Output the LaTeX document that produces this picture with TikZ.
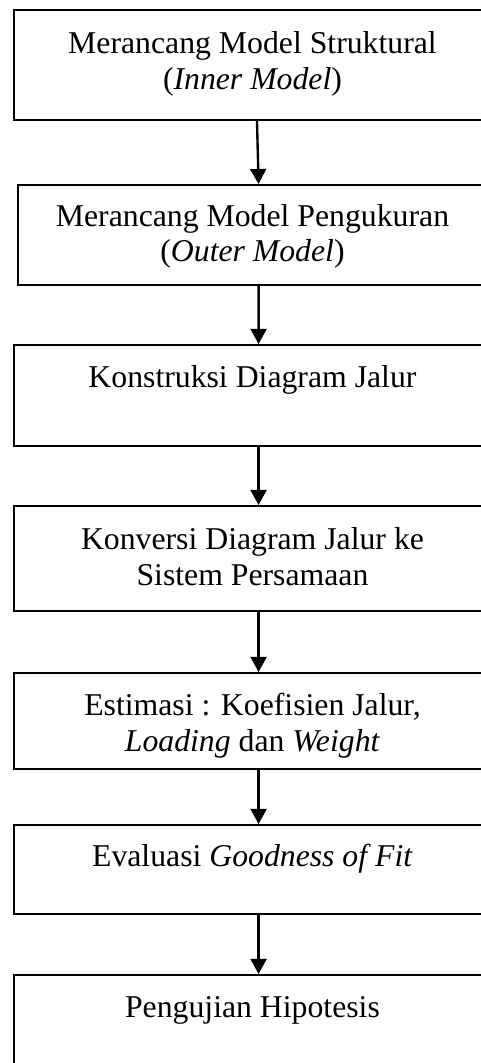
\documentclass[tikz,border=0pt]{standalone}
\usepackage{fontspec}
\setmainfont{Liberation Serif}
\usetikzlibrary{arrows.meta}
\pgfdeclarelayer{nodelayer}
\pgfdeclarelayer{edgelayer}
\pgfsetlayers{edgelayer,nodelayer,main}
\tikzstyle{box}=[fill=white, draw=black, line width=0.75pt, shape=rectangle, anchor=north west, inner sep=0pt, align=center, minimum width=180.3pt, font=\fontsize{12pt}{13.6pt}\selectfont]
\tikzstyle{directed edge}=[line width=0.9pt, -{Triangle[width=6pt,length=5.7pt]}]

\begin{document}
\begin{tikzpicture}[x=0.378pt, y=-0.378pt]
        	\useasboundingbox (0, 0) rectangle (481, 1063);
        	\begin{pgfonlayer}{nodelayer}
        		\node [style=box, text height=29.9pt, text depth=11.7pt] (0) at (13, 9) {Merancang Model Struktural\\(\textit{Inner Model})};
        		\node [style=box, minimum width=177.3pt, text height=29.1pt, text depth=8.7pt] (1) at (17, 184) {Merancang Model Pengukuran\\(\textit{Outer Model})};
        		\node [style=box, text height=15.9pt, text depth=22.3pt] (2) at (13, 344) {Konstruksi Diagram Jalur};
        		\node [style=box, text height=30.2pt, text depth=9.5pt] (3) at (13, 505) {Konversi Diagram Jalur ke\\Sistem Persamaan};
        		\node [style=box, text height=29.5pt, text depth=6.8pt] (4) at (13, 672) {Estimasi : Koefisien Jalur,\\\textit{Loading} dan \textit{Weight}};
        		\node [style=box, text height=15.5pt, text depth=18.1pt] (5) at (13, 824) {Evaluasi \textit{Goodness of Fit}};
        		\node [style=box, text height=15.9pt, text depth=24.2pt] (6) at (13, 974) {Pengujian Hipotesis};
        	\end{pgfonlayer}
        	\begin{pgfonlayer}{edgelayer}
        		\draw [style=directed edge] ([xshift=1.7pt]0.south) to ([xshift=2.3pt]1.north);
        		\draw [style=directed edge] ([xshift=2.3pt]1.south) to ([xshift=2.3pt]2.north);
        		\draw [style=directed edge] ([xshift=2.3pt]2.south) to ([xshift=2.3pt]3.north);
        		\draw [style=directed edge] ([xshift=2.3pt]3.south) to ([xshift=2.3pt]4.north);
        		\draw [style=directed edge] ([xshift=2.3pt]4.south) to ([xshift=2.3pt]5.north);
        		\draw [style=directed edge] ([xshift=2.3pt]5.south) to ([xshift=2.3pt]6.north);
        	\end{pgfonlayer}
\end{tikzpicture}
\end{document}
